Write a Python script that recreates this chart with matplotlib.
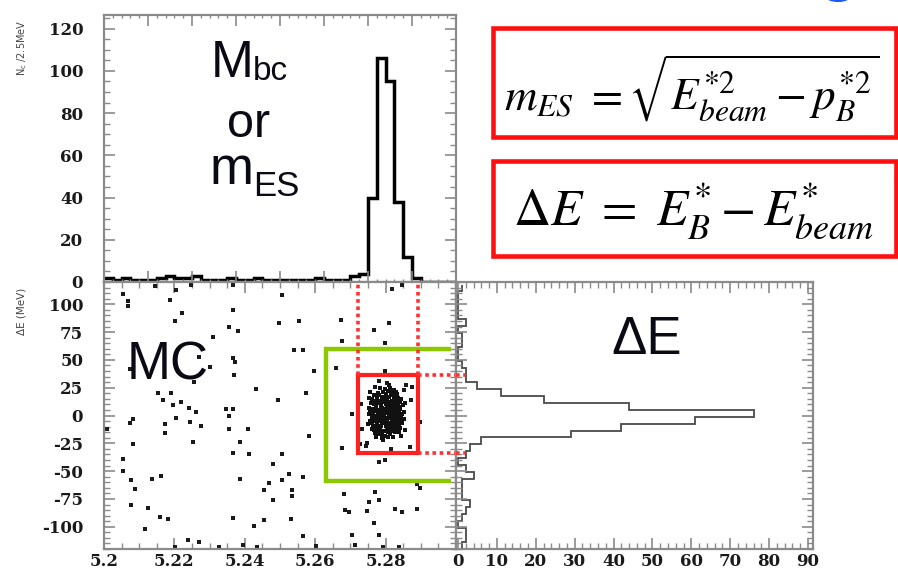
import numpy as np
import matplotlib
matplotlib.use('Agg')
import matplotlib.pyplot as plt
from matplotlib.patches import Rectangle, Ellipse
from matplotlib.ticker import MultipleLocator, FixedLocator

plt.rcParams['mathtext.fontset'] = 'stix'
plt.rcParams['axes.unicode_minus'] = False

W, H = 898, 571

# ---------------- data ----------------
mbc_edges = np.linspace(5.2, 5.3, 41)          # 2.5 MeV bins
mbc_counts = [2, 1, 2, 1, 1, 1, 2, 3, 2, 2,
              3, 1, 1, 1, 2, 1, 1, 2, 1, 1,
              1, 1, 1, 1, 2, 1, 1, 1, 3, 4,
              40, 106, 95, 38, 12, 2, 0, 0, 0, 0]

de_edges = np.arange(-119.75, 118.0, 6.25)
de_counts = [1, 2, 2, 0, 1, 2, 3, 1, 1, 1,
             4, 2, 0, 2, 3, 6, 29, 42, 61, 76,
             44, 22, 11, 5, 2, 2, 1, 0, 0, 1,
             1, 0, 2, 0, 0, 0, 0, 1]

bg_points = [
    (5.2055, 109), (5.2069, 103), (5.2069, 98), (5.2187, 104), (5.2222, 92),
    (5.2201, 85), (5.2366, 95), (5.2356, 80), (5.2380, 76), (5.2507, 108),
    (5.2498, 83), (5.2554, 85), (5.2309, 71), (5.2672, 86), (5.2809, 83),
    (5.2766, 77), (5.2799, 65), (5.2818, 114), (5.2846, 117), (5.2540, 59),
    (5.2564, 59), (5.2366, 52), (5.2372, 48), (5.2271, 53), (5.2300, 44),
    (5.2074, 42), (5.2370, 36), (5.2257, 30), (5.2597, 40), (5.2677, 67),
    (5.2658, 43), (5.2432, 24), (5.2493, 14), (5.2573, 20), (5.2154, 20),
    (5.2191, 20), (5.2168, 14), (5.2196, 9), (5.2220, 12), (5.2241, 7),
    (5.2262, 3), (5.2276, -9), (5.2205, -2), (5.2243, -6), (5.2347, 6),
    (5.2366, 6), (5.2356, 0), (5.2356, -12), (5.2408, -12), (5.2083, -3),
    (5.2074, -7), (5.2008, -12), (5.2172, -8), (5.2172, -16), (5.2582, -18),
    (5.2705, 1), (5.2898, -6), (5.2083, -26), (5.2253, -24), (5.2385, -24),
    (5.2366, -34), (5.2413, -35), (5.2507, -35), (5.2677, -29), (5.2055, -39),
    (5.2055, -50), (5.2078, -58), (5.2088, -66), (5.2135, -57), (5.2163, -54),
    (5.2385, -57), (5.2479, -44), (5.2469, -61), (5.2507, -58), (5.2455, -67),
    (5.2535, -67), (5.2564, -55), (5.2526, -53), (5.2479, -76), (5.2535, -72),
    (5.2681, -71), (5.2771, -69), (5.2780, -76), (5.2752, -78), (5.2827, -84),
    (5.2846, -87), (5.2889, -84), (5.2898, -65), (5.2686, -85), (5.2696, -87),
    (5.2078, -80), (5.2125, -83), (5.2158, -91), (5.2182, -93), (5.2366, -92),
    (5.2455, -94), (5.2531, -93), (5.2747, -86), (5.2766, -97), (5.2705, -107),
    (5.2780, -107), (5.2116, -102), (5.2427, -99), (5.2564, -108), (5.2238, -112),
    (5.2271, -114), (5.2394, -116), (5.2436, -118), (5.2601, -117), (5.2714, -116),
    (5.2794, -118), (5.2201, -118), (5.2328, -118), (5.2837, -118), (5.2144, 116),
    (5.2205, 113), (5.2248, 117), (5.2366, 117), (5.2799, 40), (5.2851, 23),
    (5.2875, 26), (5.2799, -40), (5.2780, -42), (5.2747, -25), (5.2728, -26),
    (5.2889, -62), (5.2771, 26), (5.2804, 29), (5.2730, 10), (5.2870, -28),
    (5.2745, -27), (5.2858, 27), (5.2780, 31), (5.2815, -30), (5.2872, 14),
    (5.2732, -12),
]

blob_points = [
    (5.2803, 2), (5.2808, 5), (5.2797, 4), (5.2815, -2), (5.2789, 7), (5.2823, 10),
    (5.2781, -4), (5.2811, -10), (5.2793, 15), (5.2831, 4), (5.2773, 0), (5.2819, 18),
    (5.2785, -13), (5.2836, -6), (5.2768, 10), (5.2807, 22), (5.2799, -18), (5.2826, -15),
    (5.2778, 20), (5.2842, 6), (5.2762, -2), (5.2813, 9), (5.2791, -7), (5.2821, 1),
    (5.2783, 3), (5.2832, 14), (5.2772, -11), (5.2805, -4), (5.2801, 10), (5.2817, 13),
    (5.2787, -9), (5.2828, -10), (5.2775, 16), (5.2809, 17), (5.2795, -14), (5.2845, 0),
    (5.2760, 5), (5.2836, 16), (5.2767, -13), (5.2813, 25), (5.2790, -20), (5.2823, 23),
    (5.2780, -17), (5.2849, 9), (5.2756, -5), (5.2803, 14), (5.2803, -11), (5.2835, -1),
    (5.2769, 6), (5.2812, -1), (5.2794, 6), (5.2822, 7), (5.2782, -2), (5.2832, -4),
    (5.2772, 8), (5.2818, -5), (5.2786, 10), (5.2828, 12), (5.2776, -8), (5.2808, -7),
    (5.2798, 12), (5.2839, -9), (5.2764, 13), (5.2814, 20), (5.2790, -16), (5.2824, -13),
    (5.2780, 18), (5.2833, 19), (5.2770, -16), (5.2806, -15), (5.2800, 19), (5.2841, -11),
    (5.2761, 15), (5.2810, 1), (5.2796, 3), (5.2820, 4), (5.2784, 0), (5.2830, 7),
    (5.2774, -3), (5.2816, -8), (5.2788, 11), (5.2826, -7), (5.2778, 13), (5.2834, 10),
    (5.2770, -5), (5.2804, 6), (5.2802, -2), (5.2839, 3), (5.2765, 1), (5.2846, -7),
    (5.2758, 11), (5.2851, 3), (5.2754, 1), (5.2810, 27), (5.2793, -22), (5.2820, -19),
    (5.2783, 25), (5.2829, 21), (5.2774, -19), (5.2844, 15), (5.2760, -12), (5.2852, -3),
    (5.2752, 7), (5.2806, 12), (5.2800, -9), (5.2816, 5), (5.2790, -1), (5.2826, 3),
    (5.2780, 1), (5.2834, -10), (5.2770, 13), (5.2813, -17), (5.2793, 21), (5.2838, -15),
    (5.2766, 18), (5.2809, 7), (5.2797, -3), (5.2819, -1), (5.2787, 5), (5.2829, 2),
    (5.2777, 2), (5.2856, 11), (5.2750, -8), (5.2854, -13), (5.2752, 16), (5.2845, -18),
    (5.2757, 21), (5.2818, 7), (5.2788, -4), (5.2825, -1), (5.2781, 5), (5.2812, 12),
    (5.2794, -6), (5.2822, -9), (5.2784, 13), (5.2833, 2), (5.2773, 4), (5.2807, -13),
    (5.2799, 16), (5.2827, 16), (5.2778, -12), (5.2837, 8), (5.2768, -3), (5.2815, -14),
    (5.2791, 17), (5.2805, 9), (5.2801, -6), (5.2820, -4), (5.2786, 8), (5.2830, -7),
    (5.2775, 11), (5.2811, 5), (5.2795, 0), (5.2823, 15), (5.2783, -10), (5.2840, -2),
    (5.2765, 6), (5.2816, -11), (5.2790, 14), (5.2803, -5), (5.2803, 7), (5.2826, 9),
    (5.2780, -5), (5.2842, 12), (5.2762, -7), (5.2808, -19), (5.2798, 24), (5.2833, -14),
    (5.2771, 18), (5.2848, 1), (5.2757, 3), (5.2817, 22), (5.2789, -17), (5.2840, -5),
    (5.2765, -9), (5.2828, 18), (5.2776, -15),
]

bg_x = [p[0] for p in bg_points]
bg_y = [p[1] for p in bg_points]
blob_x = [p[0] for p in blob_points]
blob_y = [p[1] for p in blob_points]

# selection regions
green_x = (5.2630, 5.2985)
green_y = (59.4, -58.5)
red_x = (5.2721, 5.2891)
red_y = (36.0, -33.5)

mbc_ticks = [5.2, 5.22, 5.24, 5.26, 5.28]
mbc_ticklabels = ['5.2', '5.22', '5.24', '5.26', '5.28']
de_ticks = [-100, -75, -50, -25, 0, 25, 50, 75, 100]
de_ticklabels = ['-100', '-75', '-50', '-25', '0', '25', '50', '75', '100']
n_ticks = [0, 20, 40, 60, 80, 100, 120]
n_ticklabels = ['0', '20', '40', '60', '80', '100', '120']
dex_ticks = [0, 10, 20, 30, 40, 50, 60, 70, 80, 90]
dex_ticklabels = [str(v) for v in dex_ticks]

# ---------------- figure ----------------
fig = plt.figure(figsize=(W / 100, H / 100), dpi=100)
fig.patch.set_facecolor('white')


def fax(l, t, r, b):
    return fig.add_axes([l / W, 1 - b / H, (r - l) / W, (b - t) / H])


FRAME = '#8a8a8a'
TICKFONT = dict(family='DejaVu Serif', weight='bold', size=12)


def style(ax):
    for s in ax.spines.values():
        s.set_color(FRAME)
        s.set_linewidth(1.6)
    ax.tick_params(which='both', direction='in', color=FRAME, top=True, right=True,
                   labelcolor='#1a1a1a')
    ax.tick_params(which='major', length=8, width=1.2)
    ax.tick_params(which='minor', length=4, width=1.0)


ax_top = fax(104, 15, 456, 282)
ax_sc = fax(104, 282, 456, 549)
ax_r = fax(456, 282, 813, 549)

# top histogram
style(ax_top)
ax_top.stairs(mbc_counts, mbc_edges, color='black', lw=2.5, baseline=None)
ax_top.set_xlim(5.2, 5.3)
ax_top.set_ylim(0, 126.5)
ax_top.xaxis.set_major_locator(FixedLocator([5.2 + 0.0125 * k for k in range(9)]))
ax_top.xaxis.set_minor_locator(MultipleLocator(0.0025))
ax_top.tick_params(axis='x', which='minor', length=2)
ax_top.set_xticklabels([])
ax_top.set_yticks(n_ticks)
ax_top.set_yticklabels(n_ticklabels, **TICKFONT)
ax_top.yaxis.set_minor_locator(MultipleLocator(5))
ax_top.tick_params(axis='y', pad=15)

# scatter
style(ax_sc)
ax_sc.scatter(bg_x, bg_y, s=6, marker='s', c='#1a1a1a', linewidths=0, zorder=2)
ax_sc.scatter(blob_x, blob_y, s=6, marker='s', c='#111111', linewidths=0, zorder=2)
ax_sc.plot([green_x[1], green_x[0], green_x[0], green_x[1]],
           [green_y[0], green_y[0], green_y[1], green_y[1]],
           color='#8cc800', lw=3.2, solid_joinstyle='miter', solid_capstyle='butt', zorder=3)
ax_sc.plot([red_x[0], red_x[1], red_x[1], red_x[0], red_x[0]],
           [red_y[0], red_y[0], red_y[1], red_y[1], red_y[0]],
           color='#ff2020', lw=3.0, solid_joinstyle='miter', zorder=4)
dot = dict(color='#ff3030', lw=2.6, ls=(0, (1, 1.0)), dash_capstyle='butt', zorder=4)
for xv in red_x:
    ax_sc.plot([xv, xv], [red_y[0], 119], **dot)
for yv in red_y:
    ax_sc.plot([red_x[1], 5.3], [yv, yv], clip_on=False, **dot)
ax_sc.set_xlim(5.2, 5.3)
ax_sc.set_ylim(-120, 120)
ax_sc.set_xticks(mbc_ticks)
ax_sc.set_xticklabels(mbc_ticklabels, **TICKFONT)
ax_sc.xaxis.set_minor_locator(MultipleLocator(0.005))
ax_sc.set_yticks(de_ticks)
ax_sc.set_yticklabels(de_ticklabels, **TICKFONT)
ax_sc.yaxis.set_minor_locator(MultipleLocator(5))
ax_sc.tick_params(axis='y', pad=15)
ax_sc.tick_params(axis='x', pad=3)

# right histogram
style(ax_r)
ax_r.stairs(de_counts, de_edges, orientation='horizontal', color='#4a4a4a', lw=1.3,
            baseline=None)
for yv in red_y:
    ax_r.plot([-0.5, 2.0], [yv, yv], clip_on=False, **dot)
ax_r.set_xlim(-0.5, 91.3)
ax_r.set_ylim(-120, 120)
ax_r.set_xticks(dex_ticks)
ax_r.set_xticklabels(dex_ticklabels, **TICKFONT)
ax_r.xaxis.set_minor_locator(MultipleLocator(2))
ax_r.set_yticks(de_ticks)
ax_r.set_yticklabels([])
ax_r.yaxis.set_minor_locator(MultipleLocator(5))
ax_r.tick_params(axis='x', pad=3)


def ft(x, y, s, **kw):
    return fig.text(x / W, 1 - y / H, s, **kw)


SANS = 'Liberation Sans'
INK = '#0a0a14'
ft(211, 77, 'M', fontsize=37, family=SANS, va='baseline', ha='left', color=INK)
ft(253, 80, 'bc', fontsize=24, family=SANS, va='baseline', ha='left', color=INK)
ft(249, 137, 'or', fontsize=35, family=SANS, va='baseline', ha='center', color=INK)
ft(210, 184, 'm', fontsize=38, family=SANS, va='baseline', ha='left', color=INK)
ft(253, 196, 'ES', fontsize=25, family=SANS, va='baseline', ha='left', color=INK)
ft(127, 379, 'MC', fontsize=38, family=SANS, va='baseline', ha='left', color=INK)
ft(611, 354, 'ΔE', fontsize=38, family=SANS, va='baseline', ha='left', color=INK)

ft(22, 48, r'N$_{\mathregular{c}}$ /2.5MeV', rotation=90, fontsize=7, family='DejaVu Sans',
   ha='center', va='center', color='#444444')
ft(22, 311, 'ΔE (MeV)', rotation=90, fontsize=7.5, family='DejaVu Sans',
   ha='center', va='center', color='#444444')

# formula boxes
for (x0, y0, x1, y1) in [(493, 28, 896, 137), (493, 161, 896, 256)]:
    fig.patches.append(Rectangle((x0 / W, 1 - y1 / H), (x1 - x0) / W, (y1 - y0) / H,
                                 transform=fig.transFigure, fill=False,
                                 ec='#ff1010', lw=3.3))
ft(692, 110, r'$m_{ES}\ =\sqrt{E^{*2}_{beam}-p^{*2}_{B}}$', fontsize=32.5,
   ha='center', va='baseline', color='black')
ft(694, 225, r'$\Delta E\ =\ E^{*}_{B}-E^{*}_{beam}$', fontsize=37,
   ha='center', va='baseline', color='black')

fig.patches.append(Ellipse((838 / W, 1 + 2 / H), 22 / W, 8 / H,
                           transform=fig.transFigure, fc='#1a55ff', ec='none'))

fig.savefig('out.png', dpi=100)
